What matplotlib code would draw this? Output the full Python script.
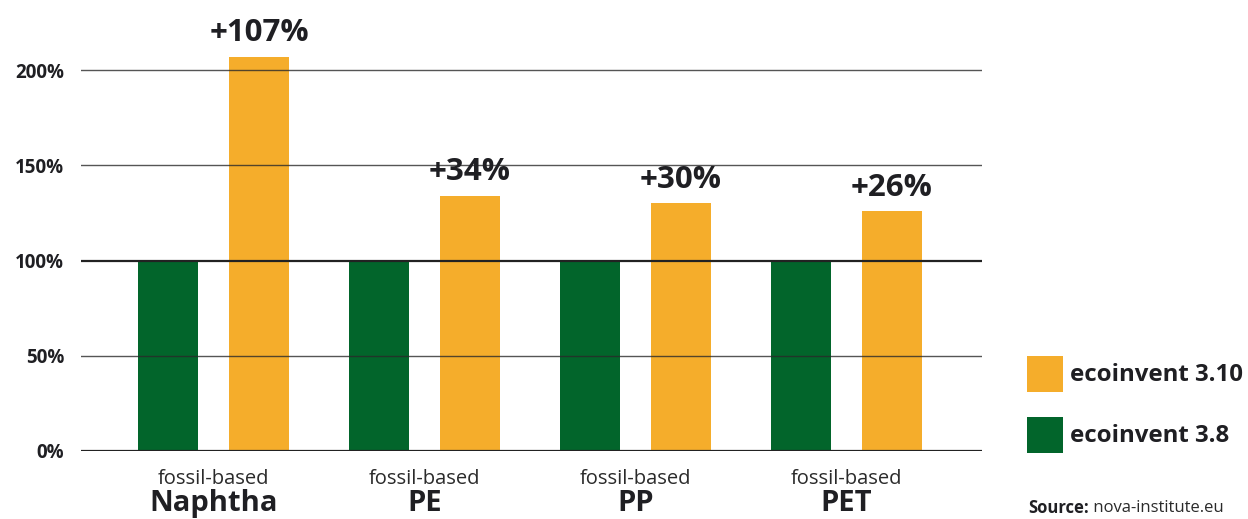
import matplotlib
matplotlib.use("Agg")
import matplotlib.pyplot as plt
from matplotlib.patches import Rectangle
import numpy as np

categories = ["Naphtha", "PE", "PP", "PET"]
sub_label = "fossil-based"
v38 = [100, 100, 100, 100]
v310 = [207, 134, 130, 126]
changes = ["+107%", "+34%", "+30%", "+26%"]
yticks = [0, 50, 100, 150, 200]
series_names = ["ecoinvent 3.10", "ecoinvent 3.8"]
source_bold = "Source:"
source_text = " nova-institute.eu"

ORANGE = "#F5AD2B"
GREEN = "#02652B"
TXT = "#1f1f23"
FONT = ["Open Sans", "DejaVu Sans"]
plt.rcParams["font.family"] = FONT

W, H = 1248, 519
fig = plt.figure(figsize=(W / 100, H / 100), dpi=100)
ax_left, ax_right = 81, 982
ax_bottom_px, ax_top_px = 451, 0
ax = fig.add_axes([ax_left / W, (H - ax_bottom_px) / H, (ax_right - ax_left) / W,
                   (ax_bottom_px - ax_top_px) / H])

x = np.arange(len(categories))
bw = 0.284
off = 0.2156
ax.bar(x - off, v38, width=bw, color=GREEN, zorder=1)
bars = ax.bar(x + off, v310, width=bw, color=ORANGE, zorder=1)

ax.set_xlim(-0.628, 3.642)
ax.set_ylim(0, 451 / 1.905)

for yv in yticks:
    if yv in (0, 100):
        ax.axhline(yv, color="#222222", lw=1.6, zorder=3)
    else:
        ax.axhline(yv, color="#2a2a2a", lw=1.0, alpha=0.8, zorder=3)

for b, c in zip(bars, changes):
    ax.annotate(c, (b.get_x() + b.get_width() / 2, b.get_height()),
                xytext=(0, 6), textcoords="offset points", ha="center", va="bottom",
                fontsize=22.5, fontweight="bold", color=TXT)

for s in ax.spines.values():
    s.set_visible(False)
ax.set_xticks([])
ax.set_yticks(yticks)
ax.set_yticklabels([f"{v}%" for v in yticks], fontsize=13.5, fontweight="bold", color=TXT)
ax.tick_params(axis="y", length=0, pad=12)

for xi, cat in zip(x, categories):
    ax.annotate(sub_label, (xi, 0), xytext=(0, -20), textcoords="offset points",
                ha="center", va="center", fontsize=14.5, color="#2a2a2a")
    ax.annotate(cat, (xi, 0), xytext=(0, -38), textcoords="offset points",
                ha="center", va="center", fontsize=21, fontweight="bold", color=TXT)

# legend
def fx(px):
    return px / W

def fy(py):
    return 1 - py / H

for (col, name, top) in [(ORANGE, series_names[0], 356), (GREEN, series_names[1], 417)]:
    fig.add_artist(Rectangle((fx(1027), fy(top + 36)), 36 / W, 36 / H,
                             transform=fig.transFigure, color=col, lw=0))
    fig.text(fx(1070), fy(top + 19), name, fontsize=17.3, fontweight="bold",
             color=TXT, va="center", ha="left")

t = fig.text(fx(1028), fy(508), source_bold, fontsize=12, fontweight="bold",
             color=TXT, va="center", ha="left")
fig.canvas.draw()
bb = t.get_window_extent()
fig.text(bb.x1 / W, fy(508), source_text, fontsize=12, color="#2a2a2a",
         va="center", ha="left")

fig.savefig("out.png", dpi=100)
